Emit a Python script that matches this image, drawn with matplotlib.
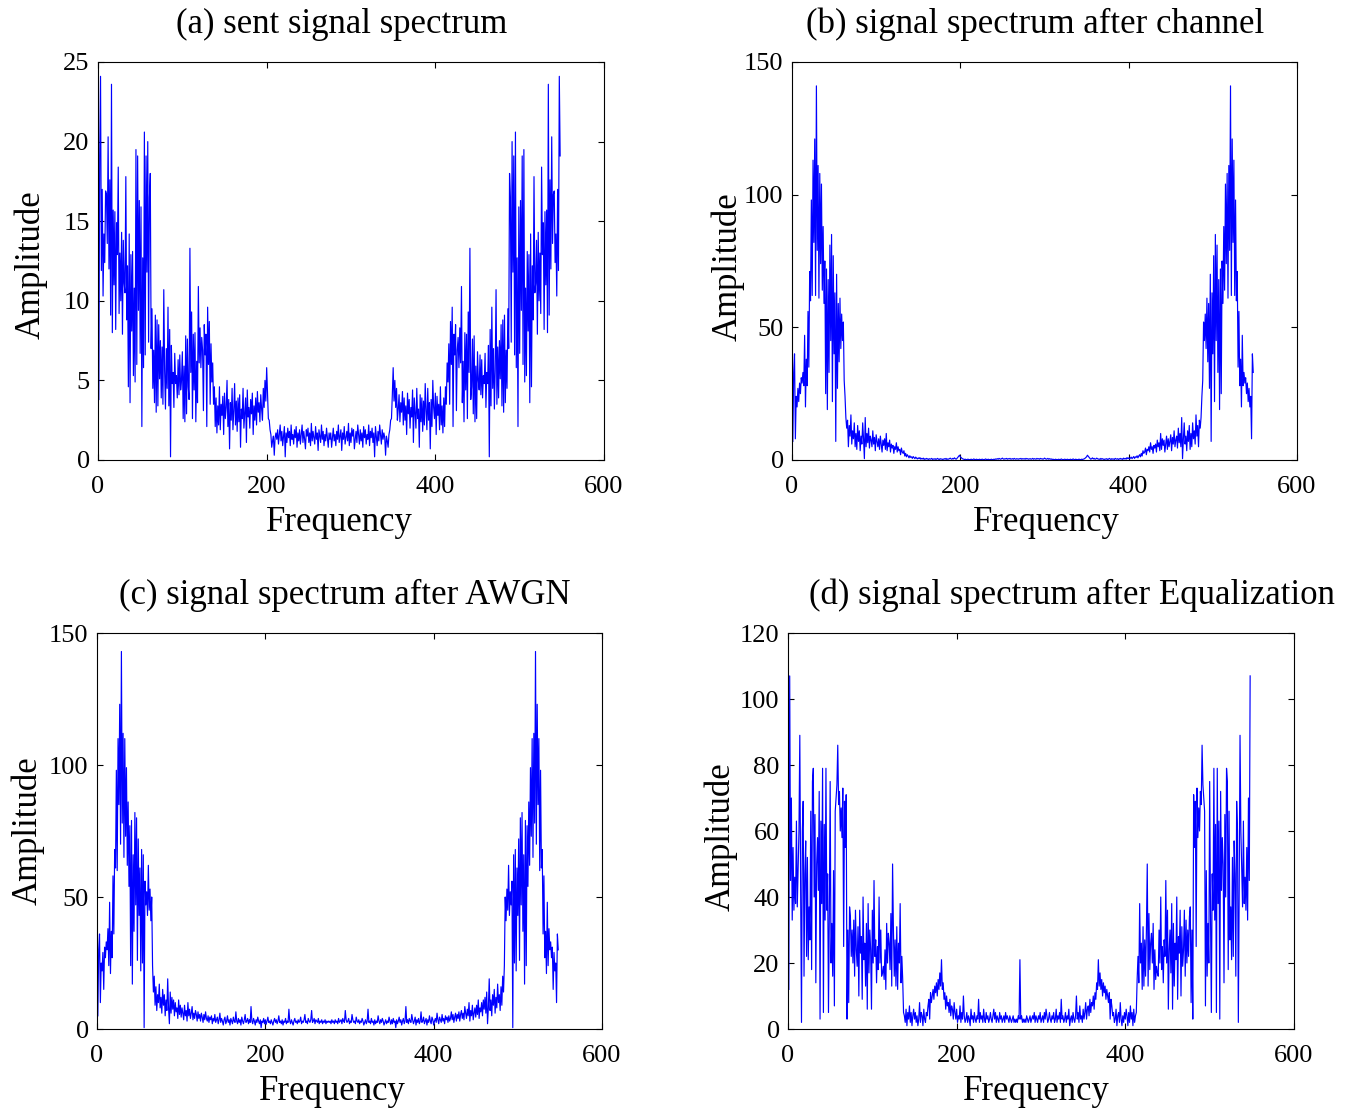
import matplotlib
matplotlib.use("Agg")
from matplotlib import pyplot as plt
import numpy as np

matplotlib.rc("font", family="Liberation Serif", size=19)

# One-sided magnitude spectra (bins 1..275). The FFT of a real signal is
# symmetric, so the other half of each spectrum is the mirror of these bins.
sent = [
    3.8, 19.1, 24.1, 11.9, 17.0, 10.3, 14.2, 12.4, 16.9, 16.7, 13.6, 20.3, 12.0, 17.6, 9.1,
    23.6, 8.0, 15.7, 11.0, 15.6, 8.2, 14.9, 12.9, 18.4, 9.2, 13.0, 10.0, 14.3, 7.9, 13.8,
    11.1, 10.5, 17.8, 8.8, 12.2, 4.6, 14.2, 3.6, 12.9, 8.1, 13.1, 5.3, 10.8, 4.9, 19.5,
    6.0, 19.1, 9.4, 16.3, 6.7, 15.9, 2.1, 12.7, 5.8, 20.6, 6.6, 19.1, 11.8, 20.0, 7.4,
    16.5, 18.0, 7.0, 9.5, 4.5, 6.9, 3.6, 9.1, 3.0, 8.8, 3.4, 8.5, 5.1, 7.5, 3.9,
    7.1, 3.5, 10.7, 5.6, 3.2, 7.0, 4.5, 9.6, 3.4, 8.2, 0.2, 7.2, 4.8, 5.5, 3.3,
    6.7, 4.8, 5.3, 3.9, 6.3, 4.1, 6.6, 4.4, 5.0, 6.8, 2.6, 5.9, 2.4, 7.8, 2.9,
    7.6, 4.6, 3.8, 13.3, 5.5, 9.3, 2.6, 7.9, 4.4, 8.0, 2.4, 6.2, 3.6, 10.9, 6.1,
    8.3, 5.8, 7.7, 6.9, 3.1, 8.5, 6.6, 7.9, 2.1, 9.6, 6.0, 8.7, 3.5, 7.3, 4.9,
    6.1, 3.5, 4.6, 2.1, 3.9, 1.7, 3.4, 2.2, 4.6, 1.9, 3.5, 2.8, 4.0, 1.6, 4.2,
    2.6, 3.3, 5.0, 2.1, 3.8, 0.7, 3.6, 2.5, 4.5, 1.9, 3.1, 4.8, 2.2, 3.7, 1.8,
    3.9, 2.4, 4.1, 0.8, 3.2, 2.6, 4.5, 2.0, 3.0, 3.9, 1.1, 4.4, 2.7, 3.3, 2.0,
    3.8, 2.9, 4.2, 1.6, 3.4, 2.5, 3.9, 2.2, 4.3, 3.0, 3.6, 2.4, 4.1, 3.2, 2.5,
    4.5, 3.3, 5.0, 3.7, 5.8, 4.1, 2.6, 2.5, 1.9, 1.6, 0.8, 1.2, 1.5, 0.3, 1.4,
    1.7, 1.3, 1.9, 1.0, 1.6, 2.2, 1.2, 1.8, 0.9, 1.5, 2.1, 0.2, 1.7, 1.1, 2.0,
    1.4, 1.8, 0.9, 2.2, 1.3, 1.6, 1.0, 1.9, 1.4, 2.1, 0.8, 1.7, 1.2, 1.9, 1.0,
    1.6, 2.2, 1.1, 1.8, 1.3, 0.7, 1.9, 1.5, 2.0, 1.1, 1.7, 0.9, 2.3, 1.2, 1.8,
    1.4, 1.0, 2.1, 1.3, 1.7, 0.6, 1.9, 1.5, 1.1, 2.2, 1.3, 1.8, 0.9, 1.6, 1.2,
    2.0, 1.4, 0.8, 1.7, 1.3,
]

after_channel = [
    7.0, 33.0, 40.0, 8.0, 24.0, 20.0, 27.0, 22.0, 29.0, 25.0, 31.0, 29.0, 33.0, 28.0, 47.0,
    20.0, 38.0, 28.0, 56.0, 35.0, 71.0, 60.0, 98.0, 62.0, 113.0, 82.0, 121.0, 62.0, 141.0, 79.0,
    111.0, 61.0, 108.0, 74.0, 104.0, 64.0, 88.0, 59.0, 75.0, 25.0, 72.0, 19.0, 68.0, 33.0, 81.0,
    45.0, 85.0, 22.0, 77.0, 40.0, 63.0, 7.0, 70.0, 27.0, 59.0, 37.0, 61.0, 42.0, 55.0, 45.0,
    52.0, 30.0, 24.0, 16.0, 12.0, 15.0, 5.0, 13.0, 9.0, 17.0, 6.0, 11.0, 8.0, 14.0, 5.0,
    10.0, 4.0, 13.0, 7.0, 11.0, 3.5, 9.0, 6.0, 14.0, 8.0, 0.5, 16.0, 5.0, 10.0, 6.5,
    12.0, 4.5, 9.0, 7.5, 5.0, 11.0, 6.0, 8.5, 3.5, 9.5, 7.0, 5.0, 8.0, 4.0, 9.0,
    6.0, 3.0, 7.5, 5.5, 8.0, 4.0, 10.0, 3.5, 6.5, 5.0, 7.5, 3.0, 6.0, 4.5, 5.5,
    2.5, 5.0, 4.0, 6.5, 3.0, 5.0, 3.5, 4.0, 2.0, 4.5, 3.0, 2.5, 3.5, 1.5, 2.5,
    1.2, 2.0, 1.5, 0.8, 1.6, 1.0, 1.2, 0.6, 1.3, 0.9, 0.5, 1.1, 0.7, 0.4, 0.8,
    0.5, 0.9, 0.3, 0.6, 0.4, 0.7, 0.2, 0.5, 0.3, 0.6, 0.4, 0.2, 0.5, 0.3, 0.4,
    0.6, 0.2, 0.4, 0.3, 0.5, 0.2, 0.4, 0.6, 0.3, 0.2, 0.5, 0.3, 0.4, 0.2, 0.3,
    0.5, 0.3, 0.6, 0.2, 0.4, 0.3, 0.5, 0.7, 0.4, 0.3, 0.6, 0.4, 0.8, 0.5, 0.3,
    0.6, 1.0, 1.4, 1.8, 1.2, 0.9, 0.6, 0.4, 0.3, 0.2, 0.3, 0.1, 0.2, 0.3, 0.2,
    0.1, 0.2, 0.3, 0.1, 0.2, 0.4, 0.2, 0.1, 0.3, 0.2, 0.1, 0.2, 0.3, 0.1, 0.2,
    0.3, 0.2, 0.1, 0.2, 0.4, 0.2, 0.1, 0.3, 0.2, 0.1, 0.2, 0.3, 0.1, 0.2, 0.3,
    0.2, 0.4, 0.3, 0.5, 0.3, 0.6, 0.4, 0.3, 0.5, 0.7, 0.4, 0.3, 0.5, 0.4, 0.6,
    0.3, 0.5, 0.4, 0.6, 0.3, 0.4, 0.5, 0.3, 0.6, 0.4, 0.3, 0.5, 0.4, 0.3, 0.5,
    0.4, 0.6, 0.3, 0.5, 0.4,
]

after_awgn = [
    5.0, 30.0, 36.0, 10.0, 25.0, 22.0, 29.0, 15.0, 31.0, 27.0, 33.0, 30.0, 38.0, 24.0, 48.0,
    21.0, 37.0, 27.0, 58.0, 36.0, 68.0, 61.0, 98.0, 60.0, 110.0, 85.0, 123.0, 70.0, 143.0, 78.0,
    112.0, 65.0, 110.0, 73.0, 99.0, 62.0, 86.0, 54.0, 77.0, 24.0, 79.0, 17.0, 66.0, 37.0, 82.0,
    47.0, 80.0, 26.0, 72.0, 43.0, 61.0, 22.0, 68.0, 25.0, 66.0, 0.5, 56.0, 47.0, 52.0, 43.0,
    62.0, 45.0, 53.0, 41.0, 50.0, 24.0, 14.0, 20.0, 9.0, 16.0, 7.0, 13.0, 10.0, 17.0, 8.0,
    12.0, 6.0, 15.0, 9.0, 13.0, 5.0, 11.0, 7.0, 19.0, 8.0, 2.0, 14.0, 6.0, 12.0, 7.5,
    11.0, 5.0, 10.0, 6.5, 8.0, 4.0, 11.0, 5.5, 9.0, 4.5, 8.0, 6.0, 3.5, 9.0, 5.0,
    7.0, 3.0, 10.0, 5.0, 7.5, 4.0, 6.0, 8.5, 3.5, 6.0, 4.0, 7.0, 5.5, 3.0, 6.5,
    4.0, 5.5, 3.0, 6.0, 4.5, 2.5, 5.5, 3.5, 6.5, 4.0, 3.0, 5.0, 2.5, 4.5, 3.5,
    5.0, 2.0, 4.0, 3.0, 5.5, 2.5, 3.5, 4.5, 2.0, 3.5, 6.0, 2.5, 4.0, 3.0, 1.5,
    3.5, 4.5, 2.0, 3.0, 5.0, 2.5, 3.5, 1.5, 4.0, 3.0, 2.0, 4.5, 3.0, 2.5, 6.5,
    3.0, 2.0, 4.0, 2.5, 3.5, 1.5, 4.5, 3.0, 2.0, 3.5, 5.5, 2.5, 3.0, 4.0, 2.0,
    3.5, 2.5, 8.5, 3.0, 2.0, 4.0, 3.0, 1.5, 3.5, 2.5, 4.5, 3.0, 2.0, 3.5, 0.5,
    3.0, 2.5, 4.0, 2.0, 3.5, 1.8, 3.0, 4.5, 2.5, 3.0, 2.0, 3.5, 2.5, 1.5, 3.0,
    4.0, 2.5, 3.5, 2.0, 3.0, 5.0, 2.5, 3.0, 2.0, 3.5, 1.5, 3.0, 2.5, 4.0, 2.0,
    3.0, 2.5, 7.5, 3.0, 2.0, 3.5, 2.5, 1.5, 3.0, 4.0, 2.5, 3.0, 2.0, 3.5, 2.5,
    3.0, 4.5, 2.0, 3.0, 2.5, 3.5, 5.5, 2.5, 3.0, 2.0, 4.0, 3.0, 2.5, 3.5, 7.0,
    2.5, 3.0, 4.0, 2.0, 3.5, 3.0, 2.5, 4.0, 2.0, 3.0, 2.5, 3.5, 2.0, 3.0, 2.5,
    3.5, 2.0, 3.0, 2.5, 3.0,
]

equalized = [
    12, 107, 45, 70, 33, 55, 36, 46, 38, 63, 37, 48, 60, 89, 42,
    2, 60, 69, 16, 47, 57, 22, 52, 21, 37, 27, 66, 18, 75, 79,
    40, 65, 14, 50, 58, 42, 72, 3, 63, 38, 79, 5, 62, 33, 79,
    36, 47, 5, 35, 75, 20, 32, 16, 48, 7, 66, 70, 74, 86, 68,
    72, 60, 67, 58, 73, 25, 69, 55, 71, 3, 30, 8, 37, 34, 22,
    30, 20, 33, 16, 36, 24, 19, 31, 10, 36, 23, 28, 9, 40, 21,
    26, 13, 32, 6, 38, 17, 30, 24, 6, 36, 20, 45, 22, 27, 14,
    25, 18, 40, 20, 30, 16, 17, 19, 15, 24, 12, 32, 20, 29, 26,
    18, 35, 13, 50, 30, 16, 27, 13, 31, 12, 26, 20, 38, 14, 22,
    15, 5, 4, 2, 6, 1, 5, 3, 7, 2, 5, 1, 4, 6, 3,
    5, 2, 4, 1, 3, 8, 2, 5, 4, 1, 6, 3, 2, 5, 4,
    7, 9, 3, 11, 8, 10, 12, 9, 13, 11, 14, 10, 15, 12, 17,
    13, 21, 12, 14, 9, 11, 6, 10, 7, 8, 5, 9, 4, 7, 6,
    3, 8, 5, 3, 6, 2, 4, 3, 7, 2, 5, 3, 10, 4, 2,
    3, 5, 2, 4, 3, 1, 6, 3, 4, 2, 5, 3, 2, 4, 3,
    9, 2, 5, 3, 4, 2, 6, 3, 2, 5, 3, 4, 2, 3, 5,
    3, 2, 4, 6, 3, 5, 2, 4, 3, 2, 5, 3, 4, 2, 3,
    4, 2, 5, 3, 4, 3, 2, 4, 3, 2, 3, 4, 2, 3, 2,
    3, 2, 4, 3, 21,
]

titles = [
    "(a) sent signal spectrum",
    "(b) signal spectrum after channel",
    "(c) signal spectrum after AWGN",
    "(d) signal spectrum after Equalization",
]
ylims = [25, 150, 150, 120]
yticks = [
    [0, 5, 10, 15, 20, 25],
    [0, 50, 100, 150],
    [0, 50, 100, 150],
    [0, 20, 40, 60, 80, 100, 120],
]
xticks = [0, 200, 400, 600]


def two_sided(half):
    half = np.asarray(half, dtype=float)
    return np.concatenate([half, half[1:-1][::-1]])


W, H = 1356, 1109
# axes boxes in pixels: left, top, right, bottom
boxes = [(98, 62, 604, 460), (792, 62, 1297, 460),
         (97, 633, 602, 1029), (788, 633, 1294, 1029)]
title_x = [0.482, 0.481, 0.491, 0.561]
xlabel_x = [0.478, 0.503, 0.467, 0.49]
# ylabel anchor (axes fraction) for each panel
ylabel_xy = [(-0.100, 0.491), (-0.093, 0.486), (-0.104, 0.502), (-0.099, 0.486)]

fig = plt.figure(figsize=(W / 100, H / 100), dpi=100)

for i, half in enumerate([sent, after_channel, after_awgn, equalized]):
    l, t, r, b = boxes[i]
    ax = fig.add_axes([l / W, 1 - b / H, (r - l) / W, (b - t) / H])
    spec = two_sided(half)
    freq = np.arange(1, len(spec) + 1)
    ax.plot(freq, spec, color="#0000ff", linewidth=0.85)
    ax.set_xlim(0, 600)
    ax.set_ylim(0, ylims[i])
    ax.set_xticks(xticks)
    ax.set_yticks(yticks[i])
    ax.tick_params(direction="in", top=True, right=True, length=4, width=0.8)
    ax.tick_params(axis="x", pad=11.5)
    ax.tick_params(axis="y", pad=6)
    for s in ax.spines.values():
        s.set_linewidth(0.8)
    ax.set_title(titles[i], fontsize=25, x=title_x[i], pad=21)
    ax.set_xlabel("Frequency", fontsize=25, labelpad=5.5)
    ax.xaxis.label.set_x(xlabel_x[i])
    ax.set_ylabel("Amplitude", fontsize=25)
    ax.yaxis.set_label_coords(*ylabel_xy[i])

fig.savefig("out.png", dpi=100)
